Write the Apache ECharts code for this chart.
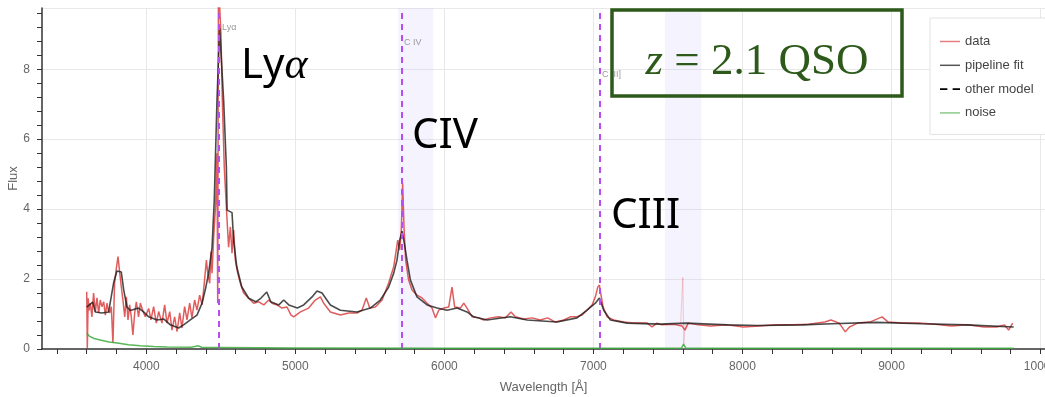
<!DOCTYPE html>
<html>
<head>
<meta charset="utf-8">
<script src="https://cdn.jsdelivr.net/npm/echarts@6.0.0/dist/echarts.min.js"></script>
<style>
  html, body { margin: 0; padding: 0; background: #fff; }
  #chart { width: 1045px; height: 397px; }
</style>
</head>
<body>
<div id="chart"></div>
<script>
// observed spectrum (red)
var dataWave = [3600, 3604, 3610, 3615, 3624, 3635, 3646, 3658, 3669, 3680, 3691, 3702, 3714, 3725, 3736, 3745, 3754, 3765, 3776, 3787,
  3799, 3810, 3821, 3832, 3843, 3855, 3866, 3877, 3888, 3899, 3910, 3922, 3933, 3948, 3960, 3978, 3993, 4016, 4031, 4049,
  4067, 4083, 4105, 4123, 4139, 4157, 4172, 4190, 4206, 4224, 4239, 4257, 4273, 4291, 4306, 4324, 4340, 4358, 4374, 4389,
  4403, 4412, 4425, 4434, 4441, 4452, 4460, 4466, 4474, 4479, 4484, 4492, 4501, 4510, 4523, 4537, 4552, 4564, 4575, 4586,
  4597, 4613, 4631, 4653, 4687, 4720, 4754, 4788, 4821, 4843, 4877, 4910, 4944, 4971, 4989, 5034, 5089, 5134, 5168, 5190,
  5235, 5302, 5358, 5414, 5447, 5476, 5499, 5537, 5582, 5626, 5660, 5687, 5700, 5711, 5720, 5729, 5740, 5760, 5783, 5816,
  5850, 5884, 5917, 5940, 5962, 5995, 6029, 6051, 6069, 6107, 6130, 6152, 6186, 6230, 6264, 6309, 6365, 6409, 6447, 6476,
  6532, 6588, 6644, 6693, 6745, 6801, 6845, 6890, 6924, 6957, 6991, 7013, 7029, 7040, 7051, 7065, 7092, 7136, 7203, 7270,
  7360, 7393, 7427, 7458, 7540, 7594, 7614, 7636, 7704, 7786, 7896, 8005, 8115, 8224, 8334, 8444, 8553, 8594, 8649, 8690,
  8718, 8772, 8854, 8937, 8978, 9074, 9183, 9293, 9402, 9512, 9621, 9704, 9758, 9786, 9813];
var dataFlux = [1.64, 0.02, 1.45, 1.1, 1.31, 0.92, 1.6, 1.07, 1.46, 1.03, 1.4, 1.21, 1.35, 0.97, 1.31, 1.1, 1.03, 1.21, 0.17, 1.89,
  2.31, 2.64, 2.2, 1.78, 1.4, 0.92, 1.49, 0.83, 1.26, 0.92, 0.4, 1.03, 1.35, 0.92, 1.31, 1.07, 0.92, 1.16, 0.83, 1.21,
  0.74, 1.07, 0.74, 1.26, 0.74, 1.07, 0.54, 0.92, 0.5, 1.03, 0.6, 1.21, 0.83, 1.31, 0.89, 1.4, 1.11, 1.54, 1.26, 1.89,
  2.54, 2.17, 1.88, 2.78, 2.17, 3.2, 3.77, 4.2, 5.6, 1.31, 10.5, 10.5, 9.0, 7.1, 5.2, 4.06, 2.91, 3.49, 2.74, 3.4,
  2.54, 2.17, 1.88, 1.6, 1.45, 1.31, 1.35, 1.26, 1.4, 1.31, 1.26, 1.17, 1.2, 0.97, 0.92, 1.06, 1.17, 1.4, 1.49, 1.31,
  1.06, 0.97, 1.03, 1.03, 1.11, 1.46, 1.17, 1.2, 1.4, 1.89, 2.35, 3.11, 2.83, 3.4, 4.74, 3.49, 2.54, 1.97, 1.69, 1.54,
  1.46, 1.31, 1.17, 0.89, 1.11, 1.17, 1.2, 1.77, 1.2, 1.17, 1.31, 1.17, 0.92, 0.89, 0.83, 0.89, 0.92, 0.89, 1.06, 0.92,
  0.86, 0.89, 0.83, 0.89, 0.77, 0.83, 0.92, 0.92, 0.97, 1.11, 1.26, 1.49, 1.77, 1.83, 1.54, 1.2, 0.92, 0.83, 0.77, 0.74,
  0.74, 0.63, 0.74, 0.69, 0.71, 0.66, 0.54, 0.74, 0.69, 0.66, 0.69, 0.63, 0.66, 0.69, 0.69, 0.71, 0.77, 0.83, 0.74, 0.49,
  0.63, 0.74, 0.77, 0.92, 0.77, 0.74, 0.74, 0.71, 0.66, 0.69, 0.63, 0.63, 0.69, 0.54, 0.74];

// pipeline fit (black)
var fitWave = [3600, 3613, 3640, 3658, 3702, 3747, 3781, 3803, 3832, 3848, 3870, 3893, 3948, 3982, 4016, 4072, 4116, 4161, 4217, 4250,
  4295, 4340, 4374, 4396, 4418, 4441, 4456, 4474, 4492, 4519, 4537, 4542, 4575, 4586, 4607, 4640, 4687, 4734, 4768, 4808,
  4835, 4889, 4922, 4956, 5013, 5056, 5112, 5145, 5179, 5235, 5302, 5414, 5503, 5570, 5626, 5660, 5682, 5700, 5716, 5731,
  5749, 5772, 5816, 5884, 5951, 6018, 6085, 6152, 6197, 6286, 6443, 6555, 6756, 6890, 6957, 7013, 7040, 7069, 7114, 7226,
  7449, 7622, 7896, 8100, 8400, 8600, 8900, 9200, 9500, 9820];
var fitFlux = [1.2, 1.2, 1.34, 1.06, 1.03, 1.06, 1.9, 2.23, 2.2, 1.7, 1.2, 1.1, 1.17, 1.06, 0.92, 0.83, 0.86, 0.69, 0.6, 0.69,
  0.83, 0.97, 1.31, 1.7, 2.17, 2.9, 4.26, 7.1, 9.17, 7.1, 5.2, 3.97, 3.9, 3.1, 2.35, 1.78, 1.45, 1.35, 1.45, 1.63,
  1.35, 1.26, 1.4, 1.26, 1.17, 1.26, 1.49, 1.66, 1.6, 1.26, 1.11, 1.06, 1.17, 1.4, 1.77, 2.17, 2.54, 3.11, 3.37, 3.03,
  2.54, 1.97, 1.49, 1.26, 1.17, 1.11, 1.17, 1.06, 0.92, 0.83, 0.92, 0.83, 0.77, 0.89, 1.11, 1.31, 1.46, 1.11, 0.83, 0.74,
  0.71, 0.74, 0.69, 0.67, 0.69, 0.72, 0.76, 0.72, 0.69, 0.63];

// noise (green)
var noiseWave = [3600, 3620, 3650, 3690, 3750, 3805, 3880, 3960, 4050, 4140, 4300, 4350, 4370, 4480, 4487, 4500, 5000, 6000, 7590, 7605, 7620, 8000, 9820];
var noiseFlux = [0.46, 0.36, 0.3, 0.26, 0.2, 0.17, 0.12, 0.09, 0.07, 0.06, 0.05, 0.09, 0.05, 0.04, 0.07, 0.04, 0.03, 0.02, 0.02, 0.14, 0.02, 0.02, 0.02];

// faint masked telluric spike
var maskWave = [7585, 7600, 7606, 7615];
var maskFlux = [0.7, 2.05, 0.1, 0.7];

// emission lines
var lineWaves = [4487, 5716, 7044];
var lineTags = ['Lyα', 'C IV', 'C III]'];
var bands = [[5690, 5925], [7480, 7725]];

// axis ticks
var xTicks = [3400, 3600, 3800, 4000, 4200, 4400, 4600, 4800, 5000, 5200, 5400, 5600, 5800, 6000, 6200, 6400, 6600, 6800,
  7000, 7200, 7400, 7600, 7800, 8000, 8200, 8400, 8600, 8800, 9000, 9200, 9400, 9600, 9800, 10000];
var xLabels = [4000, 5000, 6000, 7000, 8000, 9000, 10000];
var yTicks = [0, 0.4, 0.8, 1.2, 1.6, 2, 2.4, 2.8, 3.2, 3.6, 4, 4.4, 4.8, 5.2, 5.6, 6, 6.4, 6.8, 7.2, 7.6, 8, 8.4, 8.8, 9.2, 9.6];
var yLabels = [0, 2, 4, 6, 8];
var yGrid = [2, 4, 6, 8, 9.75];

function zip(a, b) {
  return a.map(function (v, i) { return [v, b[i]]; });
}

var chart = echarts.init(document.getElementById('chart'));

var axisColor = '#333';
var labelColor = '#666';
var gridColor = '#e8e8e8';
var redCol = 'rgba(214,39,40,0.75)';
var fitCol = 'rgba(25,25,25,0.78)';
var noiseCol = 'rgba(60,170,60,0.85)';
var plain = function (v) { return String(v); };

var option = {
  animation: false,
  grid: { left: 42, right: 0, top: 8, bottom: 48, outerBoundsMode: 'none', containLabel: false },
  legend: {
    orient: 'vertical',
    left: 930,
    top: 18,
    padding: [17, 40, 15, 10],
    itemGap: 10.8,
    itemWidth: 20,
    itemHeight: 12,
    backgroundColor: '#fff',
    borderColor: '#e2e2e2',
    borderWidth: 1,
    textStyle: { color: '#444', fontSize: 13, fontFamily: 'Liberation Sans' },
    data: [
      { name: 'data', icon: 'path://M0,0H20V1.5H0Z', itemStyle: { color: 'rgba(214,39,40,0.6)' } },
      { name: 'pipeline fit', icon: 'path://M0,0H20V1.5H0Z', itemStyle: { color: '#555' } },
      { name: 'other model', icon: 'path://M0,0H7V1.5H0Z M12,0H19V1.5H12Z', itemStyle: { color: '#000' } },
      { name: 'noise', icon: 'path://M0,0H20V1.5H0Z', itemStyle: { color: 'rgba(60,170,60,0.6)' } }
    ]
  },
  xAxis: [{
    type: 'value',
    min: 3300,
    max: 10030,
    name: 'Wavelength [Å]',
    nameLocation: 'middle',
    nameGap: 32,
    nameMoveOverlap: false,
    nameTextStyle: { color: labelColor, fontSize: 13, fontFamily: 'Liberation Sans' },
    axisLine: { lineStyle: { color: axisColor, width: 1.5 } },
    axisTick: { length: 5, customValues: xTicks, lineStyle: { color: axisColor, width: 1 } },
    axisLabel: { customValues: xLabels, formatter: plain, color: labelColor, fontSize: 12, margin: 12, fontFamily: 'Liberation Sans' },
    splitLine: { show: false }
  }, {
    type: 'value',
    min: 3300,
    max: 10030,
    axisLine: { show: false },
    axisTick: { show: false, customValues: xLabels },
    axisLabel: { show: false },
    splitLine: { show: true, lineStyle: { color: gridColor, width: 1 } }
  }],
  yAxis: [{
    type: 'value',
    min: 0,
    max: 9.75,
    name: 'Flux',
    nameLocation: 'middle',
    nameGap: 22,
    nameMoveOverlap: false,
    nameTextStyle: { color: labelColor, fontSize: 13, fontFamily: 'Liberation Sans' },
    axisLine: { show: true, lineStyle: { color: axisColor, width: 1.5 } },
    axisTick: { show: true, length: 5, customValues: yTicks, lineStyle: { color: axisColor, width: 1 } },
    axisLabel: { customValues: yLabels, formatter: plain, color: labelColor, fontSize: 12, margin: 12, fontFamily: 'Liberation Sans' },
    splitLine: { show: false }
  }, {
    type: 'value',
    min: 0,
    max: 9.75,
    position: 'left',
    axisLine: { show: false },
    axisTick: { show: false, customValues: yGrid },
    axisLabel: { show: false },
    splitLine: { show: true, lineStyle: { color: gridColor, width: 1 } }
  }],
  series: [{
    type: 'line',
    symbol: 'none',
    silent: true,
    data: zip(maskWave, maskFlux),
    lineStyle: { color: 'rgba(214,39,40,0.22)', width: 1 },
    markArea: {
      silent: true,
      itemStyle: { color: 'rgba(200,190,250,0.18)' },
      data: bands.map(function (b) { return [{ xAxis: b[0] }, { xAxis: b[1] }]; })
    },
    markLine: {
      silent: true,
      symbol: ['none', 'none'],
      label: { show: false },
      lineStyle: { color: '#b94ef0', type: [6, 5], width: 2 },
      data: lineWaves.map(function (w) { return { xAxis: w }; })
    },
    z: 1
  }, {
    name: 'data',
    type: 'line',
    symbol: 'none',
    data: zip(dataWave, dataFlux),
    itemStyle: { color: redCol },
    lineStyle: { color: redCol, width: 1.5 },
    z: 3
  }, {
    name: 'pipeline fit',
    type: 'line',
    symbol: 'none',
    data: zip(fitWave, fitFlux),
    itemStyle: { color: fitCol },
    lineStyle: { color: fitCol, width: 1.6 },
    z: 4
  }, {
    name: 'other model',
    type: 'line',
    symbol: 'none',
    data: [],
    itemStyle: { color: '#000' },
    lineStyle: { color: '#000', type: 'dashed', width: 1.5 }
  }, {
    name: 'noise',
    type: 'line',
    symbol: 'none',
    data: zip(noiseWave, noiseFlux),
    itemStyle: { color: noiseCol },
    lineStyle: { color: noiseCol, width: 1.5 },
    z: 5
  }],
  graphic: []
};

var sans = '"Noto Sans", "Open Sans", sans-serif';
var graphics = [
  {
    type: 'text', x: 241, y: 66, z: 100,
    style: {
      text: '{a|Ly}{b|α}', verticalAlign: 'middle',
      rich: {
        a: { font: '42px ' + sans, fill: '#000' },
        b: { font: 'italic 44px "Liberation Serif", serif', fill: '#000' }
      }
    }
  },
  { type: 'text', x: 412, y: 136, z: 100, style: { text: 'CIV', font: '42px ' + sans, fill: '#000', verticalAlign: 'middle' } },
  { type: 'text', x: 611, y: 216, z: 100, style: { text: 'CIII', font: '42px ' + sans, fill: '#000', verticalAlign: 'middle' } },
  {
    type: 'rect', z: 100,
    shape: { x: 612, y: 10, width: 290, height: 86 },
    style: { fill: 'none', stroke: '#2d5a1b', lineWidth: 3.5 }
  },
  {
    type: 'text', x: 757, y: 62, z: 100,
    style: {
      text: '{i|z}{r| = 2.1 QSO}', align: 'center', verticalAlign: 'middle',
      rich: {
        i: { font: 'italic 45px "Liberation Serif", serif', fill: '#2d5a1b' },
        r: { font: '45px "Liberation Serif", serif', fill: '#2d5a1b' }
      }
    }
  }
];
var tagPos = [[222, 28], [404, 43], [602, 75]];
lineTags.forEach(function (t, i) {
  graphics.push({
    type: 'text', x: tagPos[i][0], y: tagPos[i][1], z: 50,
    style: { text: t, font: '9px "Liberation Sans", sans-serif', fill: '#999', verticalAlign: 'middle' }
  });
});
option.graphic = graphics;

chart.setOption(option);
</script>
</body>
</html>
